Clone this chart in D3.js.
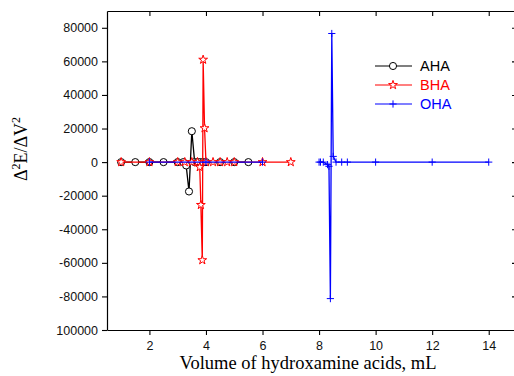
<!DOCTYPE html>
<html>
<head>
<meta charset="utf-8">
<script src="https://cdn.jsdelivr.net/npm/d3@7"></script>
<style>
  body { margin: 0; background: #fff; }
  svg { display: block; }
</style>
</head>
<body>
<div id="chart"></div>
<script>
// AHA (black circles)
const ahaX = [1.0, 1.5, 2.0, 2.5, 3.0, 3.2, 3.3, 3.4, 3.5, 3.6, 3.7, 3.8, 3.9, 4.0, 4.5, 5.0, 5.5];
const ahaY = [0, 0, 0, 0, 0, 0, -2000, -17500, 18400, 0, 0, 0, 0, 0, 0, 0, 0];

// BHA (red stars)
const bhaX = [1.0, 2.0, 3.0, 3.25, 3.5, 3.7, 3.78, 3.82, 3.87, 3.9, 3.95, 4.0, 4.25, 4.5, 4.75, 5.0, 6.0, 7.0];
const bhaY = [0, 0, 0, 0, 0, 0, -3000, -25500, -58400, 61000, 20200, 0, 0, 0, 0, 0, 0, 0];

// OHA (blue crosses) - null marks the break in the line between 6 and 8 mL
const ohaX = [2.0, 4.0, 6.0, 7.0, 8.0, 8.05, 8.15, 8.3, 8.35, 8.4, 8.45, 8.5, 8.6, 8.8, 9.0, 10.0, 12.0, 14.0];
const ohaY = [0, 0, 0, null, 0, 0, 0, -1500, -2500, -81300, 76600, 3400, 0, 0, 0, 0, 0, 0];

const xTicks = [2, 4, 6, 8, 10, 12, 14];
const yTicks = [80000, 60000, 40000, 20000, 0, -20000, -40000, -60000, -80000, -100000];
const yTickLabels = ['80000', '60000', '40000', '20000', '0', '-20000', '-40000', '-60000', '-80000', '100000'];

const seriesNames = ['AHA', 'BHA', 'OHA'];
const seriesColors = ['#000000', '#ff0000', '#0000ff'];

const W = 514, H = 376;
const margin = { top: 11, right: -3, bottom: 46, left: 107 };
const width = W - margin.left - margin.right,
      height = H - margin.top - margin.bottom;

const svg = d3.select('#chart').append('svg')
  .attr('width', W)
  .attr('height', H)
  .style('overflow', 'hidden');

const g = svg.append('g')
  .attr('transform', `translate(${margin.left},${margin.top})`);

const x = d3.scaleLinear().domain([0.5, 15]).range([0, width]);
const y = d3.scaleLinear().domain([-100000, 90000]).range([height, 0]);

const minorX = d3.range(1, 15, 1);
const minorY = d3.range(-90000, 90000, 10000);

// bottom axis: ticks out
const axBottom = g.append('g').attr('transform', `translate(0,${height})`);
axBottom.call(d3.axisBottom(x).tickValues(minorX).tickSize(3).tickFormat(''));
axBottom.call(d3.axisBottom(x).tickValues(xTicks).tickSize(5).tickSizeOuter(0).tickPadding(6).tickFormat(d3.format('d')));

// left axis: ticks out
const axLeft = g.append('g');
axLeft.call(d3.axisLeft(y).tickValues(minorY).tickSize(3).tickFormat(''));
axLeft.call(d3.axisLeft(y).tickValues(yTicks).tickSize(5).tickSizeOuter(0).tickPadding(4)
  .tickFormat((d, i) => yTickLabels[i]));

// top axis: ticks in
const axTop = g.append('g');
axTop.call(d3.axisTop(x).tickValues(minorX).tickSize(-3).tickFormat(''));
axTop.call(d3.axisTop(x).tickValues(xTicks).tickSize(-5).tickSizeOuter(0).tickFormat(''));

// right axis: ticks in
const axRight = g.append('g').attr('transform', `translate(${width},0)`);
axRight.call(d3.axisRight(y).tickValues(minorY).tickSize(-3).tickFormat(''));
axRight.call(d3.axisRight(y).tickValues(yTicks).tickSize(-5).tickSizeOuter(0).tickFormat(''));

svg.selectAll('.domain').attr('stroke', '#000').attr('stroke-width', 1.2);
svg.selectAll('.tick line').attr('stroke', '#000').attr('stroke-width', 1.1);
svg.selectAll('.tick text')
  .attr('fill', '#111')
  .style('font-family', '"Liberation Sans", Arial, sans-serif')
  .style('font-size', '12.5px');

// markers
const starPath = d3.symbol().type(d3.symbolStar).size(24)();
const circlePath = d3.symbol().type(d3.symbolCircle).size(40)();
const plusPath = 'M-3.6,0H3.6M0,-3.6V3.6';
const markers = [circlePath, starPath, plusPath];
const markerFill = ['#fff', '#fff', 'none'];

const allSeries = [
  ahaX.map((v, i) => ({ x: v, y: ahaY[i] })),
  bhaX.map((v, i) => ({ x: v, y: bhaY[i] })),
  ohaX.map((v, i) => ({ x: v, y: ohaY[i] }))
];

const line = d3.line()
  .defined(d => d.y !== null)
  .x(d => x(d.x))
  .y(d => y(d.y));

allSeries.forEach((data, k) => {
  const s = g.append('g');
  s.append('path')
    .datum(data)
    .attr('fill', 'none')
    .attr('stroke', seriesColors[k])
    .attr('stroke-width', 1.3)
    .attr('d', line);
  s.selectAll('path.m')
    .data(data.filter(d => d.y !== null))
    .join('path')
    .attr('class', 'm')
    .attr('d', markers[k])
    .attr('transform', d => `translate(${x(d.x)},${y(d.y)})`)
    .attr('fill', markerFill[k])
    .attr('stroke', seriesColors[k])
    .attr('stroke-width', 1);
});

// legend
const legend = svg.append('g').attr('transform', 'translate(375,66)');
seriesNames.forEach((name, k) => {
  const row = legend.append('g').attr('transform', `translate(0,${k * 19})`);
  row.append('line')
    .attr('x1', 0).attr('x2', 37)
    .attr('stroke', seriesColors[k]).attr('stroke-width', 1.2);
  row.append('path')
    .attr('d', markers[k])
    .attr('transform', 'translate(18,0)')
    .attr('fill', markerFill[k])
    .attr('stroke', seriesColors[k]);
  row.append('text')
    .attr('x', 45)
    .attr('y', 5)
    .attr('fill', seriesColors[k])
    .style('font-family', '"Liberation Sans", Arial, sans-serif')
    .style('font-size', '14.5px')
    .text(name);
});

// axis titles
svg.append('text')
  .attr('x', 308)
  .attr('y', 369)
  .attr('text-anchor', 'middle')
  .style('font-family', '"Liberation Serif", "Times New Roman", serif')
  .style('font-size', '18.5px')
  .text('Volume of hydroxamine acids, mL');

const yt = svg.append('text')
  .attr('transform', 'translate(27,149) rotate(-90)')
  .attr('text-anchor', 'middle')
  .style('font-family', '"Liberation Serif", "Times New Roman", serif')
  .style('font-size', '18px');
yt.append('tspan').text('\u0394');
yt.append('tspan').attr('dy', -7).style('font-size', '12px').text('2');
yt.append('tspan').attr('dy', 7).text('E/\u0394V');
yt.append('tspan').attr('dy', -7).style('font-size', '12px').text('2');
</script>
</body>
</html>
